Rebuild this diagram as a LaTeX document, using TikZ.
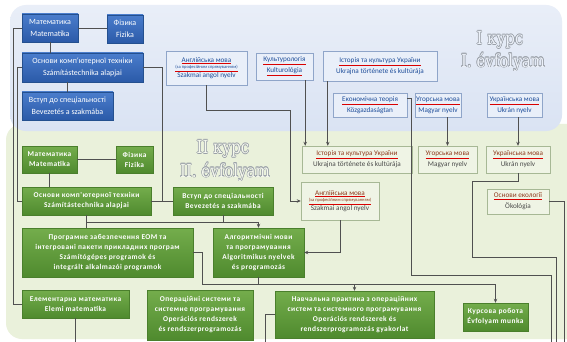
\documentclass[tikz,border=0pt]{standalone}
\usepackage{fontspec}
\usepackage{graphicx}
\setmainfont{Carlito}
\newfontfamily\gfam[LetterSpace=6]{Carlito}
\newfontfamily\titlefam{DejaVu Serif}
\usetikzlibrary{arrows.meta,shadows,calc}
\definecolor{panelA}{HTML}{DAE3F3}
\definecolor{panelB}{HTML}{EAF1DB}
\definecolor{blueTop}{HTML}{4A7DCC}
\definecolor{blueBot}{HTML}{2B5AA8}
\definecolor{blueEdge}{HTML}{24508F}
\definecolor{greenTop}{HTML}{74AD4C}
\definecolor{greenBot}{HTML}{4F8A2E}
\definecolor{greenEdge}{HTML}{4A7F2C}
\definecolor{liteA}{HTML}{E9EFF9}
\definecolor{liteAedge}{HTML}{8FA5C9}
\definecolor{txtA}{HTML}{1F4E9A}
\definecolor{liteB}{HTML}{EFF4E5}
\definecolor{liteBedge}{HTML}{A7B895}
\definecolor{txtB}{HTML}{4A4A4A}
\definecolor{txtBu}{HTML}{8E3B1E}
\definecolor{wire}{HTML}{505050}
\definecolor{ttl}{HTML}{9AA0A8}
\newcommand\ru[2]{\textcolor{red!85!black}{\underline{\textcolor{#1}{#2}}}}
\newcommand\gfont{\gfam\bfseries\fontsize{7.4}{10}\selectfont}
\tikzset{
  bluebox/.style={draw=blueEdge, top color=blueTop, bottom color=blueBot, text=white, align=center, inner sep=1pt,
    font=\fontsize{8}{11.5}\selectfont, drop shadow={opacity=0.25, shadow xshift=1pt, shadow yshift=-1pt}},
  greenbox/.style={draw=greenEdge, top color=greenTop, bottom color=greenBot, text=white, align=center, inner sep=1pt,
    font=\gfont, drop shadow={opacity=0.25, shadow xshift=1pt, shadow yshift=-1pt}},
  liteabox/.style={draw=liteAedge, fill=liteA, text=txtA, align=center, inner sep=1pt, font=\fontsize{7.2}{11}\selectfont},
  litebbox/.style={draw=liteBedge, fill=liteB, text=txtB, align=center, inner sep=1pt, font=\fontsize{7.2}{11}\selectfont},
  wireline/.style={draw=wire, line width=0.7pt},
  arrowline/.style={draw=wire, line width=0.7pt, -{Stealth[length=4pt,width=3.5pt]}},
  titletext/.style={font=\titlefam\fontsize{15}{15}\selectfont, inner sep=0pt}
}
\begin{document}
\begin{tikzpicture}[x=1pt,y=-1pt]
\useasboundingbox (0,0) rectangle (567,342);
\fill[white] (0,0) rectangle (567,342);
% panels
\path[fill=panelB, rounded corners=16] (6,124) rectangle (600,339);
\path[top color=panelA!60!white, bottom color=panelA, rounded corners=16] (10,5) rectangle (562,131);

% titles (outlined)
\foreach \a in {0,45,...,315}{
  \node[titletext, text=ttl] at ($(500,40)+(\a:0.6)$) {\scalebox{1}[1.2]{I курс}};
  \node[titletext, text=ttl] at ($(503,62)+(\a:0.6)$) {\scalebox{1}[1.2]{I. évfolyam}};
  \node[titletext, text=ttl] at ($(223,149)+(\a:0.6)$) {\scalebox{1}[1.2]{II курс}};
  \node[titletext, text=ttl] at ($(225,172)+(\a:0.6)$) {\scalebox{1}[1.2]{II. évfolyam}};
}
\node[titletext, text=panelA!50!white] (tA1) at (500,40) {\scalebox{1}[1.2]{I курс}};
\node[titletext, text=panelA!50!white] (tA2) at (503,62) {\scalebox{1}[1.2]{I. évfolyam}};
\node[titletext, text=panelB!50!white] (tB1) at (223,149) {\scalebox{1}[1.2]{II курс}};
\node[titletext, text=panelB!50!white] (tB2) at (225,172) {\scalebox{1}[1.2]{II. évfolyam}};

% ---- Year I ----
\node[bluebox, minimum width=56, minimum height=28] (mA) at (50,28) {Математика\\Matematika};
\node[bluebox, minimum width=36, minimum height=28] (fA) at (125,29) {Фізика\\Fizika};
\node[bluebox, minimum width=121, minimum height=29] (oA) at (82.5,67.5) {Основи комп`ютерної техніки\\Számítástechnika alapjai};
\node[bluebox, minimum width=91, minimum height=28] (vA) at (67.5,106) {Вступ до спеціальності\\Bevezetés a szakmába};

\node[liteabox, minimum width=81, minimum height=34] (engA) at (206.5,68) {\ru{txtA}{Англійська мова}\\[-4.5pt]{\fontsize{4.5}{5}\selectfont\ru{txtA}{(за професійним спрямуванням)}}\\[-2pt]Szakmai angol nyelv};
\node[liteabox, minimum width=57, minimum height=27] (kulA) at (284.5,66.5) {\ru{txtA}{Культурологія}\\\ru{txtA}{Kulturológia}};
\node[liteabox, minimum width=114, minimum height=30] (istA) at (380,66) {\ru{txtA}{Історія та культура України}\\Ukrajna története és kultúrája};
\node[liteabox, minimum width=74, minimum height=24] (ekA) at (370,105) {\ru{txtA}{Економічна теорія}\\Közgazdaságtan};
\node[liteabox, minimum width=44, minimum height=24] (ugA) at (438,105) {\ru{txtA}{Угорська мова}\\Magyar nyelv};
\node[liteabox, minimum width=55, minimum height=24] (ukA) at (514.5,105) {\ru{txtA}{Українська мова}\\Ukrán nyelv};

% ---- Year II ----
\node[greenbox, minimum width=55, minimum height=27] (mB) at (49.5,159.5) {Математика\\Matematika};
\node[greenbox, minimum width=37, minimum height=27] (fB) at (134.5,159.5) {Фізика\\Fizika};
\node[greenbox, minimum width=129, minimum height=28] (oB) at (86.5,201) {Основи комп'ютерної техніки\\Számítástechnika alapjai};
\node[greenbox, minimum width=100, minimum height=28] (vB) at (223,201) {Вступ до спеціальності\\Bevezetés a szakmába};
\node[greenbox, minimum width=171, minimum height=49] (pB) at (107.5,252.5) {Програмне забезпечення ЕОМ та\\інтегровані пакети прикладних програм\\Számítógépes programok és\\integrált alkalmazói programok};
\node[greenbox, minimum width=91, minimum height=49] (aB) at (258.5,252.5) {Алгоритмічні мови\\та програмування\\Algoritmikus nyelvek\\és programozás};
\node[greenbox, minimum width=107, minimum height=28] (eB) at (75.5,304) {Елементарна математика\\Elemi matematika};
\node[greenbox, minimum width=106, minimum height=50] (osB) at (200,315) {Операційні системи та\\системне програмування\\Operációs rendszerek\\és rendszerprogramozás};
\node[greenbox, minimum width=159, minimum height=47] (nB) at (354.5,314.5) {Навчальна практика з операційних\\систем та системного програмування\\Operációs rendszerek és\\rendszerprogramozás gyakorlat};
\node[greenbox, minimum width=65, minimum height=28] (kB) at (495.5,317) {Курсова робота\\Évfolyam munka};

\node[litebbox, minimum width=110, minimum height=27] (istB) at (357,159.5) {\ru{txtBu}{Історія та культура України}\\Ukrajna története és kultúrája};
\node[litebbox, minimum width=59, minimum height=27] (ugB) at (447.5,159.5) {\ru{txtBu}{Угорська мова}\\Magyar nyelv};
\node[litebbox, minimum width=64, minimum height=27] (ukB) at (518,159.5) {\ru{txtBu}{Українська мова}\\Ukrán nyelv};
\node[litebbox, minimum width=78, minimum height=38] (engB) at (340,201) {\ru{txtBu}{Англійська мова}\\[-4.5pt]{\fontsize{4.5}{5}\selectfont\ru{txtBu}{(за професійним спрямуванням)}}\\[-2pt]Szakmai angol nyelv};
\node[litebbox, minimum width=62, minimum height=25] (ekoB) at (518,201.5) {\ru{txtBu}{Основи екології}\\Ökológia};

% ---- connectors ----
\coordinate (c1) at (290,110);
\coordinate (e1) at (411,275);
\coordinate (eEnd) at (551,342);
\coordinate (w1) at (472,257);
\coordinate (wEnd) at (556,342);
\coordinate (xEnd) at (564,342);
\coordinate (nEnd) at (265,342);
\coordinate (j2) at (202,284);
\coordinate (k1) at ($(kulA.south east)+(-8,0)$);
\coordinate (i1) at ($(istA.south west)+(5,0)$);
\coordinate (ek1) at ($(ekA.north east)+(0,6)$);
\coordinate (j1) at ($(oB.south)+(0,7)$);

\draw[wireline] (mA.east) -- (mA.east -| fA.west);
\draw[wireline] (mA.south) -- (mA.south |- oA.north);
\draw[wireline] (vA.north |- oA.south) -- (vA.north);
\draw[wireline] (mA.west) -- ++(-8,0) |- (eB.west);
\draw[wireline] (oA.west) -- ++(-4,0) |- (oB.west);
\draw[wireline] (oA.east) -- ++(19,0) |- (vB.west);
\draw[wireline] (oB.east) -- (vB.west);
\draw[arrowline] (engA.south) |- (c1) |- (engB.west);
\draw[arrowline] (k1) -- (k1 |- istB.north);
\draw[arrowline] (i1) -- (i1 |- istB.north);
\draw[wireline] (ek1) -| (e1) -| (eEnd);
\draw[arrowline] (ugB.north |- ugA.south) -- (ugB.north);
\draw[arrowline] (ukB.north |- ukA.south) -- (ukB.north);
\draw[wireline] (ukB.south) -- ++(0,8.5) -| (w1) -| (wEnd);
\draw[wireline] (ekoB.east) -| (xEnd);

\draw[wireline] (mB.east) -- (mB.east -| fB.west);
\draw[wireline] (mB.south) -- (mB.south |- oB.north);
\draw[wireline] (oB.south) -- (oB.south |- pB.north);
\draw[arrowline] (j1) -| (aB.north);
\draw[wireline] (vB.south) -- (vB.south |- j1);
\draw[arrowline] (engB.south) |- (aB.east);
\draw[arrowline] (pB.east) -| (j2) -| (kB.north);
\draw[arrowline] (nB.north |- j2) -- (nB.north);
\draw[wireline] (aB.south) -- (aB.south |- j2);
\draw[wireline] (nB.west) -| (nEnd);
\draw[wireline] (eB.south) -- (eB.south |- nEnd);
\end{tikzpicture}
\end{document}
